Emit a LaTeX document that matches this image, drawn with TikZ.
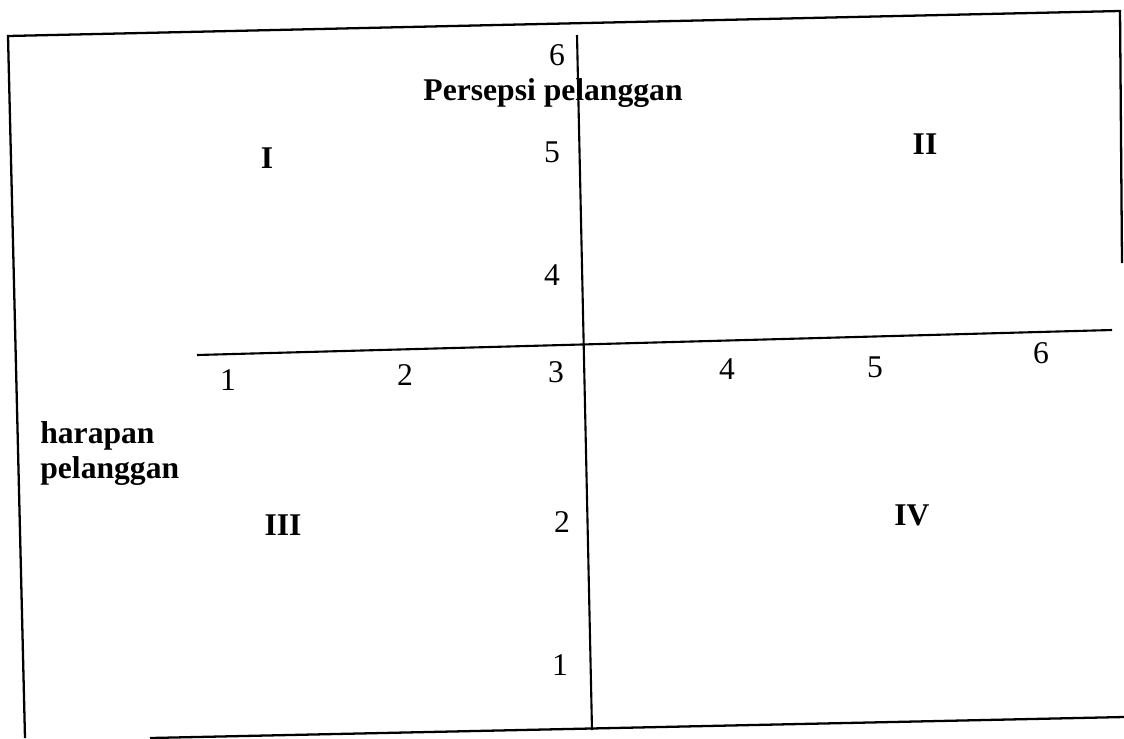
\documentclass[tikz,border=0pt]{standalone}
\usepackage{fontspec}
\setmainfont{Liberation Serif}
\begin{document}
\begin{tikzpicture}[x=0.02cm, y=-0.02cm,
  frameline/.style={line width=1.3pt, black},
  axisline/.style={line width=1.2pt, black},
  num/.style={font=\fontsize{18}{20}\selectfont, anchor=base, inner sep=0pt},
  quad/.style={font=\fontsize{18}{20}\selectfont\bfseries, anchor=base, inner sep=0pt},
  lbl/.style={font=\fontsize{18}{20}\selectfont\bfseries, inner sep=0pt}]
\useasboundingbox (0,0) rectangle (1124,738);
% frame
\coordinate (tl) at (8,36);
\coordinate (tr) at (1120,11);
\coordinate (re) at (1122,263);
\coordinate (bl) at (25,738);
\coordinate (bs) at (150,738);
\coordinate (br) at (1124,717);
\draw[frameline] (bl) -- (tl) -- (tr) -- (re);
\draw[frameline] (bs) -- (br);
% axes
\coordinate (vt) at (577,35);
\coordinate (vb) at (592,730);
\coordinate (hl) at (197,355);
\coordinate (hr) at (1112,330);
\draw[axisline] (vt) -- (vb);
\draw[axisline] (hl) -- (hr);
% y-axis numbers
\node[num] (y6) at (557,65) {6};
\node[num] (y5) at (552,162) {5};
\node[num] (y4) at (552,285) {4};
\node[num] (y3) at (556,382) {3};
\node[num] (y2) at (562,532) {2};
\node[num] (y1) at (560,675) {1};
% x-axis numbers
\node[num] (x1) at (228,390) {1};
\node[num] (x2) at (405,385) {2};
\node[num] (x4) at (727,379) {4};
\node[num] (x5) at (875,377) {5};
\node[num] (x6) at (1041,363) {6};
% quadrant labels
\node[quad] (q1) at (267,168) {I};
\node[quad] (q2) at (925,154) {II};
\node[quad] (q3) at (283,535) {III};
\node[quad] (q4) at (912,525) {IV};
% axis titles
\node[lbl, anchor=base] (px) at (553,100) {Persepsi pelanggan};
\node[lbl, anchor=base west] (h1) at (40,443) {harapan};
\node[lbl, anchor=base west] (h2) at (40,478) {pelanggan};
\end{tikzpicture}
\end{document}
